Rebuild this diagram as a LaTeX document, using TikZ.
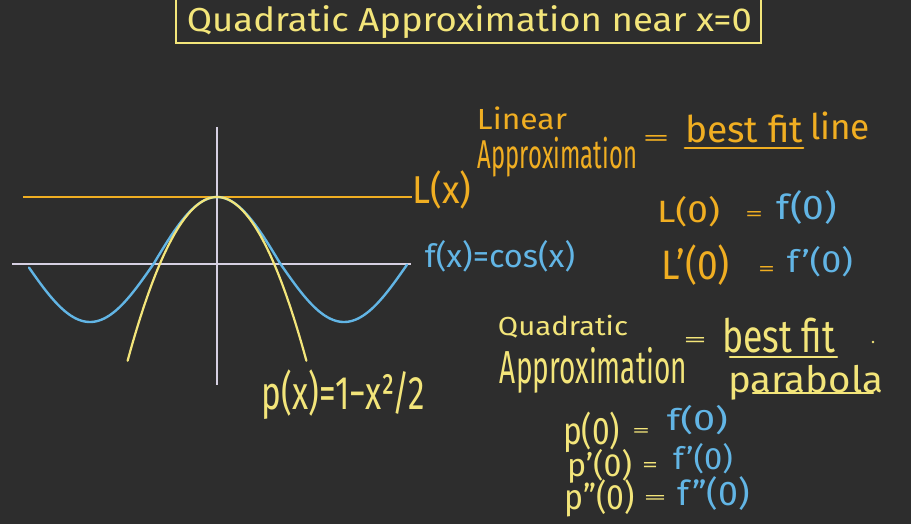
\documentclass[tikz,border=0pt]{standalone}
\usepackage{fontspec}
\setmainfont{Fira Sans}
\usepackage{graphicx}
\definecolor{bg}{HTML}{2D2D2D}
\definecolor{ylw}{HTML}{F3E57A}
\definecolor{org}{HTML}{F0AE22}
\definecolor{blu}{HTML}{62B5E5}
\definecolor{axc}{HTML}{D6D0E2}
\newcommand\fitbox[3]{\resizebox*{#1pt}{#2pt}{#3}}
\newcommand\pfit[3]{\resizebox*{#1pt}{1.13\dimexpr#2pt\relax}{#3}}
\newcommand\eqw[2]{\resizebox*{#1pt}{#2pt}{=}}
\begin{document}
\begin{tikzpicture}[x=1pt,y=-1pt,
  txt/.style={inner sep=0pt,anchor=center},
  yl/.style={txt,text=ylw},
  og/.style={txt,text=org},
  bl/.style={txt,text=blu},
  axis/.style={draw=axc,line width=2pt},
  uline/.style={line width=2.4pt,line cap=round}]
\fill[bg] (0,0) rectangle (911,524);
\useasboundingbox (0,0) rectangle (911,524);
% title
\node[draw=ylw,line width=1.6pt,minimum width=585pt,minimum height=48pt,inner sep=0pt] (tbox) at (468.5,19) {};
\node[yl] (title) at (469.5,22.5) {\fitbox{565}{33}{Quadratic Approximation near x=0}};
% axes
\coordinate (ht) at (217,127); \coordinate (hb) at (217,385);
\coordinate (al) at (12,264); \coordinate (ar) at (411,264);
\draw[axis] (ht) -- (hb);
\draw[axis] (al) -- (ar);
% labels on graph
\node[og] (Lx) at (442,190) {\pfit{59}{34}{L(x)}};
\coordinate (Ls) at (23,197);
\draw[org,line width=2.4pt] (Ls) -- (Lx.west |- Ls);
\node[bl] (fx) at (500,256) {\pfit{150}{28}{f(x)=cos(x)}};
\node[yl] (px) at (343.5,395) {\pfit{163}{44}{p(x)=1−x²/2}};
% curves
\draw[blu,line width=2.4pt,line cap=round] plot[domain=-188:190,samples=200,smooth]
  ({217+\x},{264-ifthenelse(cos(\x/127*180)>0,67,58)*cos(\x/127*180)});
\draw[ylw,line width=2.2pt,line cap=round] plot[domain=-89.4:89.4,samples=120,smooth]
  ({217+\x},{197+0.0205*\x*\x});
% linear approximation
\node[og] (lin) at (522,118.5) {\fitbox{90}{23}{Linear}};
\node[og] (linap) at (557.5,157) {\fitbox{159}{40}{Approximation}};
\node[og] (eq1) at (656,140) {\eqw{28}{10}};
\node[og] (bf1) at (744,129) {\fitbox{118}{28}{best fit}};
\draw[org,uline] (bf1.south west) ++(0,5) coordinate (u1a) -- (bf1.south east |- u1a);
\node[og] (line) at (840,126) {\fitbox{60}{28}{line}};
\node[og] (L0) at (688.5,211.5) {\pfit{63}{27}{L(0)}};
\node[og] (eq2) at (754,216) {\eqw{18}{9}};
\node[bl] (f0) at (807,208) {\pfit{60}{30}{f(0)}};
\node[og] (L1) at (696,265) {\pfit{68}{36}{L'(0)}};
\node[og] (eq3) at (766.5,270.5) {\eqw{17}{9}};
\node[bl] (f1) at (820,261.5) {\pfit{66}{27}{f'(0)}};
% quadratic approximation
\node[yl] (quad) at (563,326.5) {\fitbox{130}{23}{Quadratic}};
\node[yl] (quadap) at (593.5,370) {\fitbox{187}{46}{Approximation}};
\node[yl] (eq4) at (695,341.5) {\eqw{24}{9}};
\node[yl] (bf2) at (778.5,335.5) {\fitbox{113}{35}{best fit}};
\coordinate (u2a) at (730,357); \coordinate (u2b) at (837,357);
\draw[ylw,uline] (u2a) -- (u2b);
\fill[ylw] (873,342) circle (1.4);
\node[yl] (parab) at (805.5,382.5) {\fitbox{155}{35}{parabola}};
\coordinate (u3a) at (753,393); \coordinate (u3b) at (873,393);
\draw[ylw,uline] (u3a) -- (u3b);
\node[yl] (p0) at (591.5,432.5) {\pfit{57}{36}{p(0)}};
\node[yl] (eq5) at (641,432) {\eqw{18}{8}};
\node[bl] (pf0) at (697.5,420) {\pfit{61}{26}{f(0)}};
\node[yl] (p1) at (599.5,466) {\pfit{65}{30}{p'(0)}};
\node[yl] (eq6) at (650,466.5) {\eqw{16}{9}};
\node[bl] (pf1) at (703,459) {\pfit{60}{27}{f'(0)}};
\node[yl] (p2) at (600,498.5) {\pfit{70}{33}{p''(0)}};
\node[yl] (eq7) at (655,499) {\eqw{24}{8}};
\node[bl] (pf2) at (714,494) {\pfit{72}{30}{f''(0)}};
\end{tikzpicture}
\end{document}
